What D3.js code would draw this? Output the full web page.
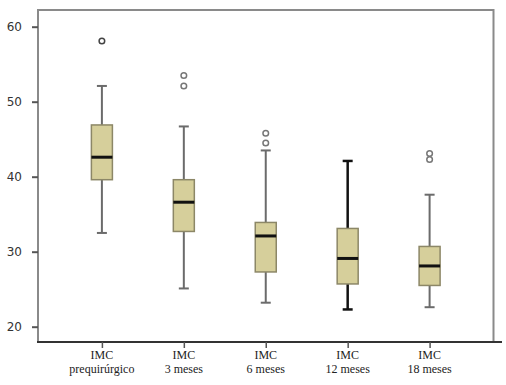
<!DOCTYPE html>
<html>
<head>
<meta charset="utf-8">
<script src="https://cdn.jsdelivr.net/npm/d3@7"></script>
<style>
  body { margin: 0; background: #fff; }
  .ytick text { font-family: Verdana, "DejaVu Sans", sans-serif; font-size: 12px; fill: #333; }
  .xlab { font-family: "Liberation Serif", "DejaVu Serif", serif; font-size: 12px; fill: #222; }
</style>
</head>
<body>
<div id="chart"></div>
<script>
// categories (two-line labels)
const labelTop = ['IMC', 'IMC', 'IMC', 'IMC', 'IMC'];
const labelBottom = ['prequirúrgico', '3 meses', '6 meses', '12 meses', '18 meses'];

// box stats
const whiskerLow  = [32.5, 25.1, 23.2, 22.3, 22.6];
const q1          = [39.6, 32.7, 27.3, 25.7, 25.5];
const median      = [42.6, 36.6, 32.1, 29.1, 28.1];
const q3          = [46.9, 39.6, 33.9, 33.1, 30.7];
const whiskerHigh = [52.1, 46.7, 43.5, 42.1, 37.6];
const outliers    = [[58.1], [53.5, 52.1], [45.8, 44.5], [], [43.1, 42.3]];
const boldWhisker = [false, false, false, true, false];

const yTicks = [20, 30, 40, 50, 60];

const W = 506, H = 385;
const mLeft = 38, mRight = 493.5, mTop = 10, mBottom = 342;

const svg = d3.select('#chart').append('svg')
  .attr('width', W).attr('height', H);

const x = d3.scalePoint()
  .domain(d3.range(labelTop.length))
  .range([mLeft, mRight])
  .padding(0.78);

const y = d3.scaleLinear()
  .domain([60 - (mBottom - 26.7) / 7.5, 60 + (26.7 - mTop) / 7.5])
  .range([mBottom, mTop]);

// frame
svg.append('path')
  .attr('d', `M${mLeft},${mBottom} V${mTop} H${mRight} V${mBottom}`)
  .attr('fill', 'none')
  .attr('stroke', '#8a8a8a')
  .attr('stroke-width', 2);

// y axis ticks
const yAxis = svg.append('g')
  .attr('transform', `translate(${mLeft},0)`)
  .call(d3.axisLeft(y).tickValues(yTicks).tickSize(6).tickPadding(10));
yAxis.select('.domain').remove();
yAxis.selectAll('.tick').attr('class', 'tick ytick');
yAxis.selectAll('.tick line').attr('stroke', '#555').attr('stroke-width', 2);

// x axis
svg.append('line')
  .attr('x1', mLeft - 1).attr('x2', 502)
  .attr('y1', mBottom).attr('y2', mBottom)
  .attr('stroke', '#333').attr('stroke-width', 2.2);

const xAxis = svg.append('g')
  .attr('transform', `translate(0,${mBottom})`)
  .call(d3.axisBottom(x).tickSize(6).tickFormat(''));
xAxis.select('.domain').remove();
xAxis.selectAll('.tick line').attr('stroke', '#555').attr('stroke-width', 1.5);

const labels = svg.append('g');
labelTop.forEach((t, i) => {
  const txt = labels.append('text')
    .attr('class', 'xlab')
    .attr('text-anchor', 'middle')
    .attr('x', x(i));
  txt.append('tspan').attr('x', x(i)).attr('y', 359).text(t);
  txt.append('tspan').attr('x', x(i)).attr('y', 373).text(labelBottom[i]);
});

// boxes
const bw = 21, cap = 10;
const g = svg.append('g');
labelTop.forEach((_, i) => {
  const cx = x(i);
  const wc = boldWhisker[i] ? '#111' : '#6b6b6b';
  const ww = boldWhisker[i] ? 2.5 : 2;
  g.append('line')
    .attr('x1', cx).attr('x2', cx)
    .attr('y1', y(whiskerHigh[i])).attr('y2', y(q3[i]))
    .attr('stroke', wc).attr('stroke-width', ww);
  g.append('line')
    .attr('x1', cx).attr('x2', cx)
    .attr('y1', y(q1[i])).attr('y2', y(whiskerLow[i]))
    .attr('stroke', wc).attr('stroke-width', ww);
  [whiskerHigh[i], whiskerLow[i]].forEach(v => {
    g.append('line')
      .attr('x1', cx - cap / 2).attr('x2', cx + cap / 2)
      .attr('y1', y(v)).attr('y2', y(v))
      .attr('stroke', wc).attr('stroke-width', ww);
  });
  g.append('rect')
    .attr('x', cx - bw / 2).attr('width', bw)
    .attr('y', y(q3[i])).attr('height', y(q1[i]) - y(q3[i]))
    .attr('fill', '#d6cf9b')
    .attr('stroke', '#8c8767').attr('stroke-width', 1.5);
  g.append('line')
    .attr('x1', cx - bw / 2).attr('x2', cx + bw / 2)
    .attr('y1', y(median[i])).attr('y2', y(median[i]))
    .attr('stroke', '#111').attr('stroke-width', 3);
  outliers[i].forEach(v => {
    g.append('circle')
      .attr('cx', cx).attr('cy', y(v)).attr('r', 2.8)
      .attr('fill', 'none')
      .attr('stroke', i === 0 ? '#444' : '#777')
      .attr('stroke-width', 1.5);
  });
});
</script>
</body>
</html>
